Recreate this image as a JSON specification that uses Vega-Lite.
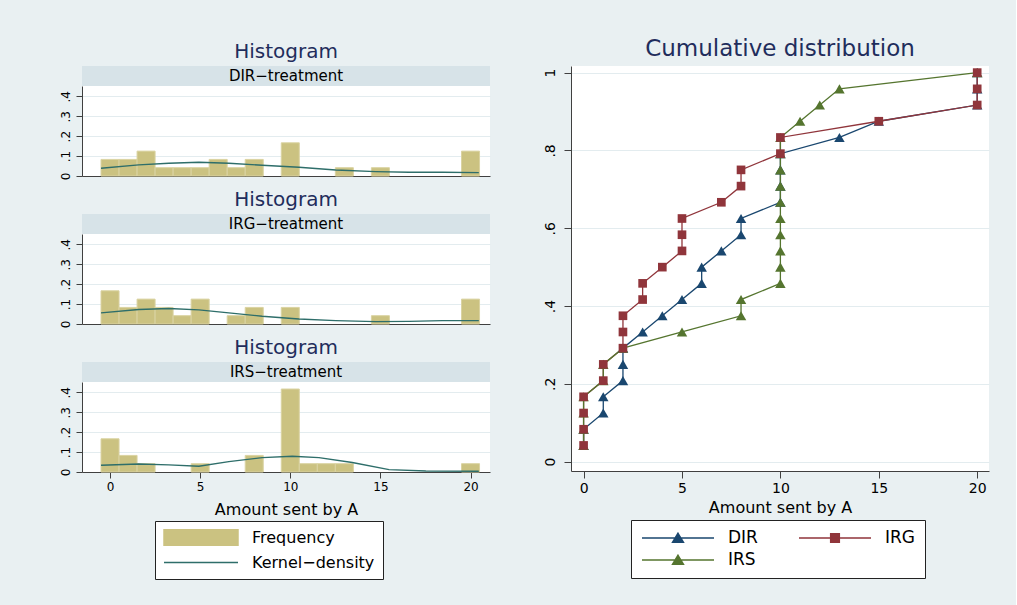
{
 "$schema": "https://vega.github.io/schema/vega-lite/v6.json",
 "background": "#e9f0f2",
 "padding": {"left": 58, "top": 32, "right": 27, "bottom": 27},
 "config": {
  "font": "DejaVu Sans",
  "view": {"stroke": null},
  "axis": {"domainColor": "#404040", "tickColor": "#404040", "labelColor": "#000000", "titleColor": "#000000", "gridColor": "#e3ecef", "titleFontWeight": "normal", "labelFont": "DejaVu Sans", "titleFont": "DejaVu Sans", "labelOverlap": false},
  "title": {"fontWeight": "normal", "color": "#1f2d5c", "font": "DejaVu Sans"},
  "legend": {"labelColor": "#000000", "strokeColor": "#222222", "fillColor": "#ffffff", "labelFont": "DejaVu Sans"}
 },
 "datasets": {
  "hist": [
   {"t":"DIR","amount":0,"lo":-0.5,"hi":0.5,"freq":0.0833},
   {"t":"DIR","amount":1,"lo":0.5,"hi":1.5,"freq":0.0833},
   {"t":"DIR","amount":2,"lo":1.5,"hi":2.5,"freq":0.125},
   {"t":"DIR","amount":3,"lo":2.5,"hi":3.5,"freq":0.0417},
   {"t":"DIR","amount":4,"lo":3.5,"hi":4.5,"freq":0.0417},
   {"t":"DIR","amount":5,"lo":4.5,"hi":5.5,"freq":0.0417},
   {"t":"DIR","amount":6,"lo":5.5,"hi":6.5,"freq":0.0833},
   {"t":"DIR","amount":7,"lo":6.5,"hi":7.5,"freq":0.0417},
   {"t":"DIR","amount":8,"lo":7.5,"hi":8.5,"freq":0.0833},
   {"t":"DIR","amount":10,"lo":9.5,"hi":10.5,"freq":0.1667},
   {"t":"DIR","amount":13,"lo":12.5,"hi":13.5,"freq":0.0417},
   {"t":"DIR","amount":15,"lo":14.5,"hi":15.5,"freq":0.0417},
   {"t":"DIR","amount":20,"lo":19.5,"hi":20.5,"freq":0.125},
   {"t":"IRG","amount":0,"lo":-0.5,"hi":0.5,"freq":0.1667},
   {"t":"IRG","amount":1,"lo":0.5,"hi":1.5,"freq":0.0833},
   {"t":"IRG","amount":2,"lo":1.5,"hi":2.5,"freq":0.125},
   {"t":"IRG","amount":3,"lo":2.5,"hi":3.5,"freq":0.0833},
   {"t":"IRG","amount":4,"lo":3.5,"hi":4.5,"freq":0.0417},
   {"t":"IRG","amount":5,"lo":4.5,"hi":5.5,"freq":0.125},
   {"t":"IRG","amount":7,"lo":6.5,"hi":7.5,"freq":0.0417},
   {"t":"IRG","amount":8,"lo":7.5,"hi":8.5,"freq":0.0833},
   {"t":"IRG","amount":10,"lo":9.5,"hi":10.5,"freq":0.0833},
   {"t":"IRG","amount":15,"lo":14.5,"hi":15.5,"freq":0.0417},
   {"t":"IRG","amount":20,"lo":19.5,"hi":20.5,"freq":0.125},
   {"t":"IRS","amount":0,"lo":-0.5,"hi":0.5,"freq":0.1667},
   {"t":"IRS","amount":1,"lo":0.5,"hi":1.5,"freq":0.0833},
   {"t":"IRS","amount":2,"lo":1.5,"hi":2.5,"freq":0.0417},
   {"t":"IRS","amount":5,"lo":4.5,"hi":5.5,"freq":0.0417},
   {"t":"IRS","amount":8,"lo":7.5,"hi":8.5,"freq":0.0833},
   {"t":"IRS","amount":10,"lo":9.5,"hi":10.5,"freq":0.4167},
   {"t":"IRS","amount":11,"lo":10.5,"hi":11.5,"freq":0.0417},
   {"t":"IRS","amount":12,"lo":11.5,"hi":12.5,"freq":0.0417},
   {"t":"IRS","amount":13,"lo":12.5,"hi":13.5,"freq":0.0417},
   {"t":"IRS","amount":20,"lo":19.5,"hi":20.5,"freq":0.0417}
  ],
  "kde": [
   {"t":"DIR","x":-0.5,"d":0.039},{"t":"DIR","x":1.59,"d":0.056},{"t":"DIR","x":3.26,"d":0.064},{"t":"DIR","x":4.93,"d":0.069},
   {"t":"DIR","x":6.59,"d":0.064},{"t":"DIR","x":8.44,"d":0.054},{"t":"DIR","x":10.48,"d":0.044},{"t":"DIR","x":12.52,"d":0.030},
   {"t":"DIR","x":14.74,"d":0.022},{"t":"DIR","x":16.59,"d":0.019},{"t":"DIR","x":18.44,"d":0.019},{"t":"DIR","x":20.46,"d":0.017},
   {"t":"IRG","x":-0.5,"d":0.056},{"t":"IRG","x":1.59,"d":0.073},{"t":"IRG","x":3.26,"d":0.078},{"t":"IRG","x":4.93,"d":0.071},
   {"t":"IRG","x":6.59,"d":0.056},{"t":"IRG","x":8.44,"d":0.039},{"t":"IRG","x":10.48,"d":0.025},{"t":"IRG","x":12.52,"d":0.017},
   {"t":"IRG","x":14.74,"d":0.012},{"t":"IRG","x":16.59,"d":0.013},{"t":"IRG","x":18.44,"d":0.017},{"t":"IRG","x":20.46,"d":0.017},
   {"t":"IRS","x":-0.5,"d":0.034},{"t":"IRS","x":1.59,"d":0.040},{"t":"IRS","x":3.26,"d":0.036},{"t":"IRS","x":4.93,"d":0.029},
   {"t":"IRS","x":6.59,"d":0.052},{"t":"IRS","x":8.44,"d":0.072},{"t":"IRS","x":10.11,"d":0.079},{"t":"IRS","x":11.59,"d":0.072},
   {"t":"IRS","x":13.44,"d":0.048},{"t":"IRS","x":15.48,"d":0.012},{"t":"IRS","x":17.52,"d":0.005},{"t":"IRS","x":20.46,"d":0.004}
  ],
  "cum": [
   {"g":"DIR","x":0,"p":0.0417},{"g":"DIR","x":0,"p":0.0833},{"g":"DIR","x":1,"p":0.125},{"g":"DIR","x":1,"p":0.1667},
   {"g":"DIR","x":2,"p":0.2083},{"g":"DIR","x":2,"p":0.25},{"g":"DIR","x":2,"p":0.2917},{"g":"DIR","x":3,"p":0.3333},
   {"g":"DIR","x":4,"p":0.375},{"g":"DIR","x":5,"p":0.4167},{"g":"DIR","x":6,"p":0.4583},{"g":"DIR","x":6,"p":0.5},
   {"g":"DIR","x":7,"p":0.5417},{"g":"DIR","x":8,"p":0.5833},{"g":"DIR","x":8,"p":0.625},{"g":"DIR","x":10,"p":0.6667},
   {"g":"DIR","x":10,"p":0.7083},{"g":"DIR","x":10,"p":0.75},{"g":"DIR","x":10,"p":0.7917},{"g":"DIR","x":13,"p":0.8333},
   {"g":"DIR","x":15,"p":0.875},{"g":"DIR","x":20,"p":0.9167},{"g":"DIR","x":20,"p":0.9583},{"g":"DIR","x":20,"p":1},
   {"g":"IRG","x":0,"p":0.0417},{"g":"IRG","x":0,"p":0.0833},{"g":"IRG","x":0,"p":0.125},{"g":"IRG","x":0,"p":0.1667},
   {"g":"IRG","x":1,"p":0.2083},{"g":"IRG","x":1,"p":0.25},{"g":"IRG","x":2,"p":0.2917},{"g":"IRG","x":2,"p":0.3333},
   {"g":"IRG","x":2,"p":0.375},{"g":"IRG","x":3,"p":0.4167},{"g":"IRG","x":3,"p":0.4583},{"g":"IRG","x":4,"p":0.5},
   {"g":"IRG","x":5,"p":0.5417},{"g":"IRG","x":5,"p":0.5833},{"g":"IRG","x":5,"p":0.625},{"g":"IRG","x":7,"p":0.6667},
   {"g":"IRG","x":8,"p":0.7083},{"g":"IRG","x":8,"p":0.75},{"g":"IRG","x":10,"p":0.7917},{"g":"IRG","x":10,"p":0.8333},
   {"g":"IRG","x":15,"p":0.875},{"g":"IRG","x":20,"p":0.9167},{"g":"IRG","x":20,"p":0.9583},{"g":"IRG","x":20,"p":1},
   {"g":"IRS","x":0,"p":0.0417},{"g":"IRS","x":0,"p":0.0833},{"g":"IRS","x":0,"p":0.125},{"g":"IRS","x":0,"p":0.1667},
   {"g":"IRS","x":1,"p":0.2083},{"g":"IRS","x":1,"p":0.25},{"g":"IRS","x":2,"p":0.2917},{"g":"IRS","x":5,"p":0.3333},
   {"g":"IRS","x":8,"p":0.375},{"g":"IRS","x":8,"p":0.4167},{"g":"IRS","x":10,"p":0.4583},{"g":"IRS","x":10,"p":0.5},
   {"g":"IRS","x":10,"p":0.5417},{"g":"IRS","x":10,"p":0.5833},{"g":"IRS","x":10,"p":0.625},{"g":"IRS","x":10,"p":0.6667},
   {"g":"IRS","x":10,"p":0.7083},{"g":"IRS","x":10,"p":0.75},{"g":"IRS","x":10,"p":0.7917},{"g":"IRS","x":10,"p":0.8333},
   {"g":"IRS","x":11,"p":0.875},{"g":"IRS","x":12,"p":0.9167},{"g":"IRS","x":13,"p":0.9583},{"g":"IRS","x":20,"p":1}
  ]
 },
 "resolve": {"scale": {"color": "independent"}},
 "spacing": 53,
 "hconcat": [
  {
   "spacing": 10,
   "resolve": {"scale": {"color": "independent"}},
   "vconcat": [
    {
     "spacing": 0, "bounds": "flush",
     "vconcat": [
      {"title": {"text": ["", "Histogram"], "lineHeight": 10, "fontSize": 20, "offset": 4},
       "width": 408, "height": 20, "view": {"fill": "#d7e3e8"},
       "data": {"values": [{"label": "DIR−treatment"}]},
       "mark": {"type": "text", "fontSize": 15, "color": "#000000"},
       "encoding": {"text": {"field": "label", "type": "nominal"}}},
      {"width": 408, "height": 90, "view": {"fill": "#ffffff"},
       "layer": [
        {"data": {"name": "hist"}, "transform": [{"filter": "datum.t === 'DIR'"}],
         "mark": {"type": "bar", "fill": "#cbc281", "stroke": "#dad3a2", "strokeWidth": 1},
         "encoding": {
          "x": {"field": "lo", "type": "quantitative", "scale": {"domain": [-1.555, 21.08], "nice": false, "zero": false},
                "axis": {"labels": false, "ticks": false, "title": null, "grid": false, "domain": true}},
          "x2": {"field": "hi"},
          "y": {"field": "freq", "type": "quantitative", "scale": {"domain": [0, 0.452], "nice": false},
                "axis": {"values": [0, 0.1, 0.2, 0.3, 0.4], "tickCount": 10, "labelOverlap": false, "labelExpr": "datum.value == 0 ? '0' : '.' + round(datum.value * 10)", "labelAngle": -90, "title": null, "grid": true, "tickSize": 6, "labelPadding": 4, "labelFontSize": 12}},
          "y2": {"datum": 0}}},
        {"data": {"name": "kde"}, "transform": [{"filter": "datum.t === 'DIR'"}],
         "mark": {"type": "line", "color": "#2e6e6a", "strokeWidth": 1.4},
         "encoding": {"x": {"field": "x", "type": "quantitative"}, "y": {"field": "d", "type": "quantitative"}}}
       ]}
     ]
    },
    {
     "spacing": 0, "bounds": "flush",
     "vconcat": [
      {"title": {"text": "Histogram", "fontSize": 20, "offset": 4},
       "width": 408, "height": 20, "view": {"fill": "#d7e3e8"},
       "data": {"values": [{"label": "IRG−treatment"}]},
       "mark": {"type": "text", "fontSize": 15, "color": "#000000"},
       "encoding": {"text": {"field": "label", "type": "nominal"}}},
      {"width": 408, "height": 90, "view": {"fill": "#ffffff"},
       "layer": [
        {"data": {"name": "hist"}, "transform": [{"filter": "datum.t === 'IRG'"}],
         "mark": {"type": "bar", "fill": "#cbc281", "stroke": "#dad3a2", "strokeWidth": 1},
         "encoding": {
          "x": {"field": "lo", "type": "quantitative", "scale": {"domain": [-1.555, 21.08], "nice": false, "zero": false},
                "axis": {"labels": false, "ticks": false, "title": null, "grid": false, "domain": true}},
          "x2": {"field": "hi"},
          "y": {"field": "freq", "type": "quantitative", "scale": {"domain": [0, 0.452], "nice": false},
                "axis": {"values": [0, 0.1, 0.2, 0.3, 0.4], "tickCount": 10, "labelOverlap": false, "labelExpr": "datum.value == 0 ? '0' : '.' + round(datum.value * 10)", "labelAngle": -90, "title": null, "grid": true, "tickSize": 6, "labelPadding": 4, "labelFontSize": 12}},
          "y2": {"datum": 0}}},
        {"data": {"name": "kde"}, "transform": [{"filter": "datum.t === 'IRG'"}],
         "mark": {"type": "line", "color": "#2e6e6a", "strokeWidth": 1.4},
         "encoding": {"x": {"field": "x", "type": "quantitative"}, "y": {"field": "d", "type": "quantitative"}}}
       ]}
     ]
    },
    {
     "spacing": 0, "bounds": "flush",
     "resolve": {"scale": {"color": "independent"}},
     "vconcat": [
      {"title": {"text": "Histogram", "fontSize": 20, "offset": 4},
       "width": 408, "height": 20, "view": {"fill": "#d7e3e8"},
       "data": {"values": [{"label": "IRS−treatment"}]},
       "mark": {"type": "text", "fontSize": 15, "color": "#000000"},
       "encoding": {"text": {"field": "label", "type": "nominal"}}},
      {"width": 408, "height": 90, "view": {"fill": "#ffffff"},
       "layer": [
        {"data": {"name": "kde"}, "transform": [{"filter": "datum.t === 'none'"}],
         "mark": {"type": "line", "strokeWidth": 1.4},
         "encoding": {
          "x": {"field": "x", "type": "quantitative", "scale": {"domain": [-1.555, 21.08], "nice": false, "zero": false},
                "axis": {"values": [0, 5, 10, 15, 20], "title": "Amount sent by A", "grid": false, "tickSize": 6, "labelPadding": 3, "labelFontSize": 12, "titleFontSize": 16, "titlePadding": 9}},
          "y": {"field": "d", "type": "quantitative", "scale": {"domain": [0, 0.452], "nice": false},
                "axis": {"values": [0, 0.1, 0.2, 0.3, 0.4], "tickCount": 10, "labelOverlap": false, "labelExpr": "datum.value == 0 ? '0' : '.' + round(datum.value * 10)", "labelAngle": -90, "title": null, "grid": true, "tickSize": 6, "labelPadding": 4, "labelFontSize": 12}},
          "color": {"datum": "Kernel−density", "type": "nominal",
                    "scale": {"domain": ["Frequency", "Kernel−density"], "range": ["#cbc281", "#2e6e6a"]},
                    "legend": {"orient": "none", "legendX": 73, "legendY": 139, "title": null, "direction": "vertical",
                               "symbolSize": 5476, "clipHeight": 17, "labelOffset": 13, "rowPadding": 8, "padding": 8, "labelFontSize": 16,
                               "encode": {"symbols": {"update": {
                                 "shape": {"signal": "datum.value === 'Frequency' ? 'M-1,-0.23H1V0.23H-1Z' : 'M-1,0H1'"},
                                 "fill": {"signal": "datum.value === 'Frequency' ? '#cbc281' : 'transparent'"},
                                 "stroke": {"signal": "datum.value === 'Frequency' ? '#dad3a2' : '#2e6e6a'"},
                                 "strokeWidth": {"value": 1.5},
                                 "opacity": {"value": 1}}}}}}}},
        {"data": {"name": "hist"}, "transform": [{"filter": "datum.t === 'IRS'"}],
         "mark": {"type": "bar", "stroke": "#dad3a2", "strokeWidth": 1, "opacity": 1},
         "encoding": {
          "x": {"field": "lo", "type": "quantitative"},
          "x2": {"field": "hi"},
          "y": {"field": "freq", "type": "quantitative"},
          "y2": {"datum": 0},
          "color": {"datum": "Frequency", "type": "nominal", "legend": null}}},
        {"data": {"name": "kde"}, "transform": [{"filter": "datum.t === 'IRS'"}],
         "mark": {"type": "line", "strokeWidth": 1.4},
         "encoding": {"x": {"field": "x", "type": "quantitative"}, "y": {"field": "d", "type": "quantitative"},
                      "color": {"datum": "Kernel−density", "type": "nominal", "legend": null}}}
       ]}
     ]
    }
   ]
  },
  {
   "title": {"text": "Cumulative distribution", "fontSize": 23, "offset": 5},
   "width": 418, "height": 405,
   "view": {"fill": "#ffffff"},
   "data": {"name": "cum"},
   "encoding": {
    "x": {"field": "x", "type": "quantitative", "scale": {"domain": [-0.64, 20.6], "nice": false, "zero": false},
          "axis": {"values": [0, 5, 10, 15, 20], "title": "Amount sent by A", "grid": false, "tickSize": 7, "labelPadding": 3, "labelFontSize": 14, "titleFontSize": 16, "titlePadding": 4}},
    "y": {"field": "p", "type": "quantitative", "scale": {"domain": [-0.024, 1.017], "nice": false, "zero": false},
          "axis": {"values": [0, 0.2, 0.4, 0.6, 0.8, 1], "tickCount": 10, "labelExpr": "datum.value == 0 ? '0' : datum.value == 1 ? '1' : '.' + round(datum.value * 10)", "labelAngle": -90, "title": null, "grid": true, "tickSize": 7, "labelPadding": 7, "labelFontSize": 14}}
   },
   "layer": [
    {"mark": {"type": "line", "strokeWidth": 1.3},
     "encoding": {
      "order": {"field": "p", "type": "quantitative"},
      "color": {"field": "g", "type": "nominal",
                "scale": {"domain": ["DIR", "IRG", "IRS"], "range": ["#1a476f", "#90353b", "#55752f"]},
                "legend": {"orient": "none", "legendX": 60, "legendY": 454, "title": null, "columns": 2, "direction": "horizontal",
                           "symbolSize": 5184, "clipHeight": 16, "labelOffset": 13, "rowPadding": 5, "columnPadding": 40, "padding": 10, "labelFontSize": 17,
                           "encode": {"symbols": {"update": {
                             "shape": {"signal": "datum.value === 'IRG' ? 'M-1,0H1M-0.12,-0.12H0.12V0.12H-0.12Z' : 'M-1,0H1M0,-0.13L0.15,0.12H-0.15Z'"},
                             "fill": {"signal": "datum.value === 'DIR' ? '#1a476f' : datum.value === 'IRG' ? '#90353b' : '#55752f'"},
                             "stroke": {"signal": "datum.value === 'DIR' ? '#1a476f' : datum.value === 'IRG' ? '#90353b' : '#55752f'"},
                             "strokeWidth": {"value": 1.5},
                             "opacity": {"value": 1}}}}}}}},
    {"transform": [{"filter": "datum.g !== 'IRG'"}],
     "mark": {"type": "point", "filled": true, "opacity": 1, "shape": "triangle-up", "size": 110},
     "encoding": {"color": {"field": "g", "type": "nominal", "legend": null}}},
    {"transform": [{"filter": "datum.g === 'IRG'"}],
     "mark": {"type": "point", "filled": true, "opacity": 1, "shape": "square", "size": 75},
     "encoding": {"color": {"field": "g", "type": "nominal", "legend": null}}}
   ]
  }
 ]
}
